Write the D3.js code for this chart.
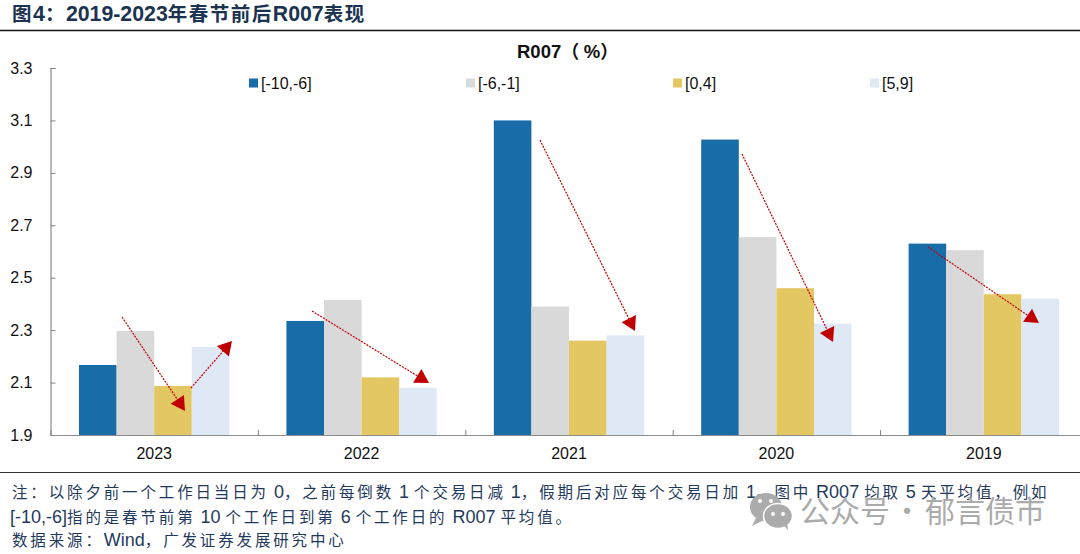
<!DOCTYPE html>
<html><head><meta charset="utf-8">
<script src="https://cdn.jsdelivr.net/npm/d3@7/dist/d3.min.js"></script>
<style>html,body{margin:0;padding:0;background:#fff;overflow:hidden}svg{display:block}</style>
</head><body><svg id="c" width="1080" height="554"></svg>
<script>
const years = ["2023","2022","2021","2020","2019"];
const seriesNames = ["[-10,-6]","[-6,-1]","[0,4]","[5,9]"];
const s1 = [2.167,2.335,3.10,3.027,2.63];
const s2 = [2.297,2.415,2.39,2.655,2.605];
const s3 = [2.087,2.12,2.26,2.46,2.437];
const s4 = [2.236,2.08,2.28,2.325,2.42];
const seriesValues = [s1,s2,s3,s4];
const seriesColors = ["#186ca8","#d9d9d9","#e3c763","#dee9f5"];
const yTicks = [1.9,2.1,2.3,2.5,2.7,2.9,3.1,3.3];
// arrows in axis units: [band position, value] start and end
const arrowStart = [[.345,2.35],[.677,2.079],[1.261,2.373],[2.36,3.025],[3.334,2.972],[4.231,2.617]];
const arrowEnd = [[.6485,1.992],[.875,2.259],[1.825,2.098],[2.818,2.297],[3.773,2.255],[4.766,2.327]];
const titleText = "图4：2019-2023年春节前后R007表现";
const chartTitle = "R007（%）";
const noteLines = ["注：以除夕前一个工作日当日为 0，之前每倒数 1 个交易日减 1，假期后对应每个交易日加 1。图中 R007 均取 5 天平均值，例如",
 "[-10,-6]指的是春节前第 10 个工作日到第 6 个工作日的 R007 平均值。",
 "数据来源：Wind，广发证券发展研究中心"];
const wmParts = ["公众号","·","郁言债市"];

const LATIN = "'Liberation Sans',sans-serif", CJK = "'Noto Sans CJK SC',sans-serif";
const svg = d3.select("#c").attr("font-family",LATIN);
const mLeft=50.5, mRight=1087.5, mTop=68, mBottom=435;
const x = d3.scaleBand().domain(years).range([mLeft,mRight]).paddingInner(0.275).paddingOuter(0.1375);
const x1 = d3.scaleBand().domain(seriesNames).range([0,x.bandwidth()]);
const xLin = d3.scaleLinear().domain([0,5]).range([mLeft,mRight]);
const y = d3.scaleLinear().domain([1.9,3.3]).range([mBottom,mTop]);

// mixed Latin / CJK text: each script gets its own size and spacing
function mixed(sel, text, latinSize, cjkSize, cjkSpacing){
  const parts = text.match(/[\x20-\x7e]+|[^\x20-\x7e]+/g);
  parts.forEach(p=>{
    const isLatin = /^[\x20-\x7e]/.test(p);
    sel.append("tspan").attr("xml:space","preserve").style("white-space","pre")
      .attr("font-family",isLatin?LATIN:CJK)
      .attr("font-size",isLatin?latinSize:cjkSize)
      .attr("letter-spacing",isLatin?0:cjkSpacing)
      .text(p);
  });
}

// header
svg.append("text").attr("x",12).attr("y",21).attr("font-weight",700).attr("fill","#1b3350")
  .call(mixed,titleText,21.3,19.5,1.5);
svg.append("line").attr("x1",0).attr("x2",1080).attr("y1",30.5).attr("y2",30.5).attr("stroke","#111").attr("stroke-width",1.5);
svg.append("text").attr("x",517).attr("y",57.5).attr("font-weight",700).attr("fill","#111")
  .call(mixed,chartTitle,18.5,18,4.5);

// bars
seriesNames.forEach((n,i)=>{
  svg.append("g").selectAll("rect").data(seriesValues[i]).join("rect")
    .attr("x",(d,j)=>x(years[j])+x1(n))
    .attr("width",x1.bandwidth())
    .attr("y",d=>y(d))
    .attr("height",d=>y(1.9)-y(d))
    .attr("fill",seriesColors[i]);
});

// axes
const gy = svg.append("g").attr("transform",`translate(${mLeft},0)`)
  .call(d3.axisLeft(y).tickValues(yTicks).tickFormat(d3.format(".1f")).tickSize(-5).tickPadding(18));
const gxT = svg.append("g").attr("transform",`translate(0,${mBottom})`)
  .call(d3.axisBottom(xLin).tickValues([1,2,3,4]).tickFormat("").tickSize(-5));
const gx = svg.append("g").attr("transform",`translate(0,${mBottom})`)
  .call(d3.axisBottom(x).tickSize(0).tickPadding(13));
[gy,gx,gxT].forEach(g=>{
  g.selectAll(".domain").attr("stroke","#8c8c8c").attr("stroke-width",1.2);
  g.selectAll("line").attr("stroke","#808080");
  g.selectAll("text").attr("font-family",LATIN).attr("font-size",16).attr("fill","#111");
});

// legend
const legendX = [249,466,673,870];
const lg = svg.append("g").selectAll("g").data(seriesNames).join("g").attr("transform",(d,i)=>`translate(${legendX[i]},83)`);
lg.append("rect").attr("x",0).attr("y",-4.5).attr("width",9).attr("height",9).attr("fill",(d,i)=>seriesColors[i]);
lg.append("text").attr("x",12).attr("y",6).attr("font-size",16).attr("fill","#111").text(d=>d);

// arrows
const HEAD_AREA=110, HEAD_TIP=9.2;
const head = d3.symbol().type(d3.symbolTriangle).size(HEAD_AREA);
const ag = svg.append("g").selectAll("g").data(arrowStart).join("g");
ag.each(function(s,i){
  const e=arrowEnd[i], x0=xLin(s[0]),y0=y(s[1]),x2=xLin(e[0]),y2=y(e[1]);
  const a=Math.atan2(y2-y0,x2-x0);
  const g=d3.select(this);
  g.append("line").attr("x1",x0).attr("y1",y0).attr("x2",x2-10*Math.cos(a)).attr("y2",y2-10*Math.sin(a))
    .attr("stroke","#c00000").attr("stroke-width",1.2).attr("stroke-dasharray","2 1.2");
  g.append("path").attr("d",head).attr("fill","#c00000")
    .attr("transform",`translate(${x2-HEAD_TIP*Math.cos(a)},${y2-HEAD_TIP*Math.sin(a)}) rotate(${a*180/Math.PI+90})`);
});

// footer
svg.append("line").attr("x1",0).attr("x2",1080).attr("y1",472.5).attr("y2",472.5).attr("stroke","#333").attr("stroke-width",1.2);
const noteY=[498,522.5,545.5];
svg.append("g").selectAll("text").data(noteLines).join("text")
  .attr("x",(d,i)=>i==1?10:12).attr("y",(d,i)=>noteY[i]).attr("fill","#1f3a5c")
  .each(function(d){ d3.select(this).call(mixed,d,18,15.5,2.85); });

// watermark
const wm = svg.append("g").attr("fill","#ababab");
wm.append("ellipse").attr("cx",766).attr("cy",507).attr("rx",16).attr("ry",14);
wm.append("path").attr("d","M756 518 L752 526 L764 520 Z");
wm.append("ellipse").attr("cx",778).attr("cy",516).attr("rx",14.5).attr("ry",12.5).attr("stroke","#fff").attr("stroke-width",1.5);
wm.append("path").attr("d","M784 526 L788 530 L787 522 Z");
wm.append("circle").attr("cx",773).attr("cy",514).attr("r",2).attr("fill","#fff");
wm.append("circle").attr("cx",783).attr("cy",514).attr("r",2).attr("fill","#fff");
wm.append("circle").attr("cx",760).attr("cy",501).attr("r",2).attr("fill","#fff");
wm.append("circle").attr("cx",771).attr("cy",501).attr("r",2).attr("fill","#fff");
const wmX=[800,892,925];
wm.append("g").selectAll("text").data(wmParts).join("text")
  .attr("x",(d,i)=>wmX[i]).attr("y",522).attr("font-size",30).attr("font-family",CJK).text(d=>d);
</script></body></html>
